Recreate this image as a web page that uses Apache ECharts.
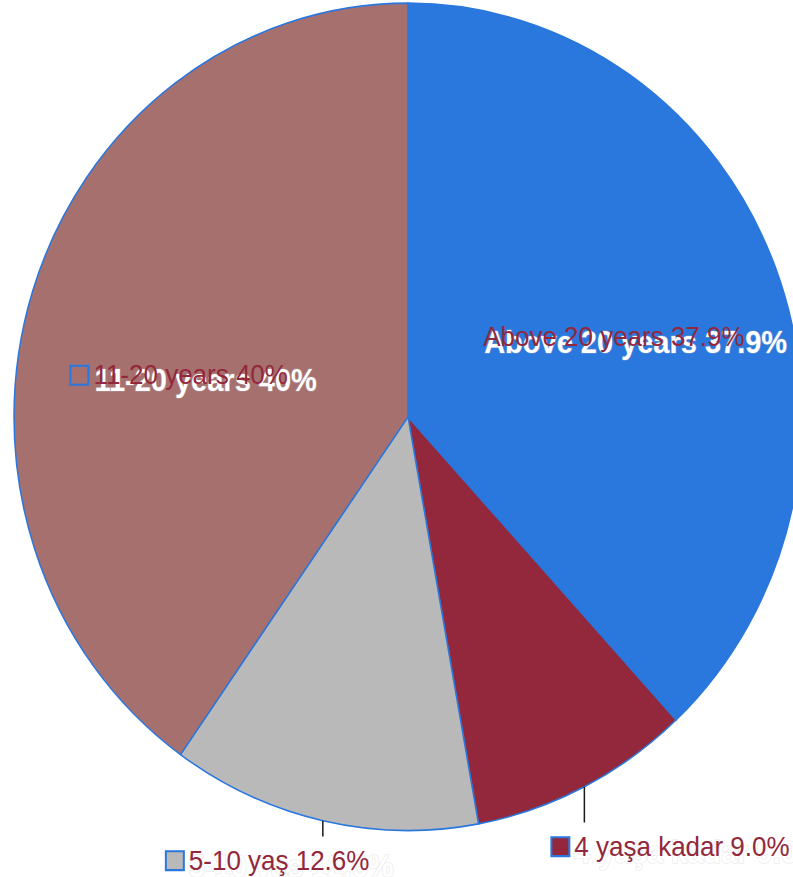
<!DOCTYPE html>
<html>
<head>
<meta charset="utf-8">
<script src="https://cdn.jsdelivr.net/npm/echarts@6/dist/echarts.min.js"></script>
<style>
html { margin: 0; padding: 0; width: 793px; height: 877px; overflow: hidden; background: #fff; }
body { margin: 0; padding: 0; width: 793px; height: 877px; background: #fff; }
/* the picture is a little taller than wide, so the whole chart is stretched a bit */
#pieMain { width: 793px; height: 835px; transform: scaleY(1.05); transform-origin: 0 0; }
</style>
</head>
<body>
<div id="pieMain"></div>
<script>
var ageGroups = ['Above 20 years', '4 yaşa kadar', '5-10 yaş', '11-20 years']
var shares = [37.9, 9.0, 12.6, 40]
var shareLabels = ['37.9%', '9.0%', '12.6%', '40%']

var sliceColors = ['#2a77dd', '#93283c', '#b9b9b9', '#a6706e']
var labelSpots = ['inside', 'outside', 'outside', 'inside']
// [dx, dy, tick length] of each label from its anchor
var labelShift = [[-132, -3, 0], [-32, 57, 34], [-156, 38, 15], [-145, 21, 0]]
var edgeBlue = '#2a77dd'
var textRed = '#93283c'
var font = "'Liberation Sans', Arial, sans-serif"

var pieChart = echarts.init(document.getElementById('pieMain'), null, { renderer: 'svg' })

function placeLabel(extraX, extraY) {
    return function (p) {
        var s = labelShift[p.dataIndex]
        var pts = p.labelLinePoints
        var ax, ay
        if (pts && pts.length) {
            ax = pts[0][0]
            ay = pts[0][1]
        } else {
            ax = p.labelRect.x + p.labelRect.width / 2
            ay = p.labelRect.y + p.labelRect.height / 2
        }
        var out = { x: ax + s[0] + extraX, y: ay + s[1] + extraY, align: 'left', verticalAlign: 'middle' }
        if (pts && pts.length) {
            out.labelLinePoints = [[ax, ay], [ax, ay + s[2]], [ax, ay + s[2]]]
        }
        return out
    }
}

function buildData(lineShow) {
    var list = []
    for (var i = 0; i < shares.length; i++) {
        list.push({
            name: ageGroups[i],
            value: shares[i],
            label: { position: labelSpots[i] },
            labelLine: { show: lineShow && labelSpots[i] == 'outside' }
        })
    }
    return list
}

var markRich = {
    t: { fontSize: 26, fontFamily: font, color: textRed, padding: [0, 0, 0, 6], lineHeight: 30 }
}
sliceColors.forEach(function (c, i) {
    markRich['sq' + i] = { width: 16, height: 16, backgroundColor: c, borderColor: edgeBlue, borderWidth: 2 }
})

var pieBase = {
    type: 'pie',
    center: [408, 397],
    radius: 394,
    startAngle: 90,
    silent: true,
    avoidLabelOverlap: false,
    emphasis: { disabled: true }
}

var option = {
    animation: false,
    series: [
        Object.assign({}, pieBase, {
            z: 1,
            data: buildData(false).map(function (d, i) {
                d.itemStyle = { color: sliceColors[i] }
                d.label = { show: false }
                return d
            }),
            label: { show: false },
            labelLine: { show: false },
            itemStyle: { borderColor: edgeBlue, borderWidth: 1.5 }
        }),
        // white shadow copy of the labels, drawn under the red ones
        Object.assign({}, pieBase, {
            z: 2,
            data: buildData(true),
            itemStyle: { color: 'rgba(0,0,0,0)', borderWidth: 0 },
            label: {
                show: true,
                overflow: 'none',
                fontSize: 29,
                fontWeight: 'bold',
                fontFamily: font,
                color: '#ffffff',
                textBorderColor: 'rgba(190,190,190,0.3)',
                textBorderWidth: 1.5,
                formatter: function (p) {
                    return p.name + ' ' + shareLabels[p.dataIndex]
                }
            },
            labelLine: { lineStyle: { color: 'rgba(0,0,0,0)', width: 0 } },
            labelLayout: placeLabel(22, 5)
        }),
        Object.assign({}, pieBase, {
            z: 3,
            data: buildData(true),
            itemStyle: { color: 'rgba(0,0,0,0)', borderWidth: 0 },
            label: {
                show: true,
                overflow: 'none',
                color: textRed,
                formatter: function (p) {
                    return '{sq' + p.dataIndex + '| }{t|' + p.name + ' ' + shareLabels[p.dataIndex] + '}'
                },
                rich: markRich
            },
            labelLine: { smooth: false, lineStyle: { color: '#1a1a1a', width: 1.5 } },
            labelLayout: placeLabel(0, 0)
        })
    ]
}

pieChart.setOption(option, true)
</script>
</body>
</html>
